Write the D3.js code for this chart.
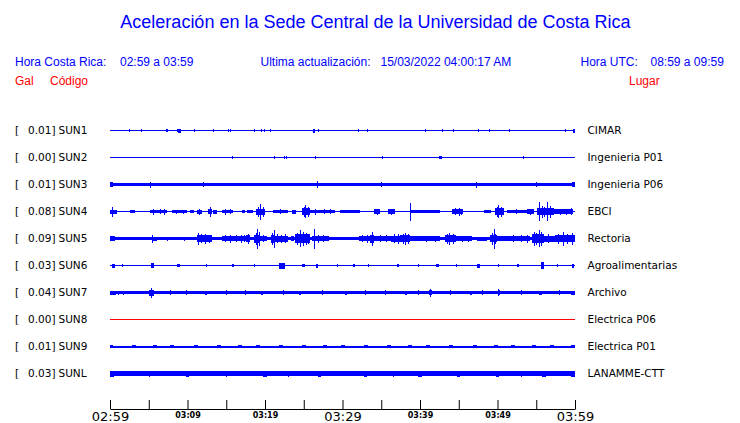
<!DOCTYPE html>
<html>
<head>
<meta charset="utf-8">
<script src="https://cdn.jsdelivr.net/npm/d3@7"></script>
<style>
  html, body { margin: 0; padding: 0; background: #fff; }
  svg { display: block; }
</style>
</head>
<body>
<svg id="chart" width="740" height="423"></svg>
<script>
// ---------------- DATA ----------------
const title = "Aceleración en la Sede Central de la Universidad de Costa Rica";
const horaCR = "02:59 a 03:59";
const horaUTC = "08:59 a 09:59";
const actualizacion = "15/03/2022 04:00:17 AM";

const stations = ["SUN1","SUN2","SUN3","SUN4","SUN5","SUN6","SUN7","SUN8","SUN9","SUNL"];
const places = ["CIMAR","Ingenieria P01","Ingenieria P06","EBCI","Rectoria","Agroalimentarias","Archivo","Electrica P06","Electrica P01","LANAMME-CTT"];
const peakGal = [0.01,0.00,0.01,0.08,0.09,0.03,0.04,0.00,0.01,0.03];
const offline = ["SUN8"];

// background noise level (half amplitude) for each station
const noiseLevel = [0.5,0.5,1.6,0.8,1.7,0.5,1.2,0.5,1.0,2.2];

// bursts: [start minute, end minute, half amplitude]; minutes after 02:59
const bursts = {
  SUN1: [[7.2,7.5,1.5],[8.8,9.1,2],[26.2,26.5,2],[59.7,60,2]],
  SUN2: [[42.5,42.9,1.8]],
  SUN3: [[0,0.4,2.2],[59.6,60,2.2]],
  SUN4: [[0,0.9,2],[2.6,3.2,1.3],[5.2,7.3,1.8],[8.0,9.9,1.3],[10.3,10.8,1.3],[11.2,11.9,2],
         [12.7,13.1,2.2],[13.3,13.8,2],[14.4,15.9,1.8],[17.0,17.4,1.3],[17.7,18.5,1.3],[18.9,20.0,3],
         [21.0,23.0,1.6],[23.5,24.0,2],[24.8,25.8,3.5],[25.8,29.0,1.8],[29.7,32.3,1.5],[34.0,34.9,2.2],
         [35.9,36.8,2.2],[38.9,42.6,1.1],[44.1,45.6,2.5],[48.2,49.1,1.6],[49.7,50.8,3.5],[51.2,53.8,1.6],
         [53.8,54.7,2.2],[55.1,57.3,3.5],[57.3,59.8,2.2]],
  SUN5: [[0,0.6,2.5],[5.5,6.0,2],[11.2,13.1,3.5],[14.4,17.6,2.5],[17.6,18.1,3.5],[18.6,19.3,4],[19.3,20.3,2.5],
         [20.8,21.3,4],[21.3,23.0,3],[23.3,23.8,2.5],[23.9,25.8,4.5],[26.0,28.3,2.5],[32.1,33.6,2.5],[33.6,34.1,4],
         [34.1,36.2,2.5],[36.2,37.4,3],[37.4,38.7,3.5],[38.7,40.0,2.5],[40.0,42.6,2.2],[43.2,44.6,3.5],[44.6,46.7,2.2],
         [47.3,48.6,2],[49.0,49.9,3.5],[49.9,51.2,2.5],[51.2,54.2,2.5],[54.4,56.0,4.5],[56.0,57.4,3],[57.4,60,3.5]],
  SUN6: [[0.3,0.7,2],[5.3,5.7,2.5],[8.7,9.0,1.8],[15.7,16.0,1.8],[21.8,22.6,3],[24.8,25.1,1.8],[26.6,26.9,2],
         [31.3,31.6,1.8],[37.0,37.3,1.8],[42.1,42.4,1.8],[47.4,47.7,2],[52.5,52.8,1.8],[55.6,56.0,3.5],[59.6,59.9,2]],
  SUN7: [[0,0.8,2],[5.0,5.7,3],[12.2,12.5,2],[19.5,19.8,2],[24.4,24.7,2],[30.3,30.6,2],[38.0,38.3,2],
         [41.1,41.5,2.5],[46.4,46.7,2],[50.0,50.3,2.5],[55.4,55.7,2],[59.5,60,2]],
  SUN8: [],
  SUN9: [[0,0.4,1.6],[2.8,3.3,1.6],[5.5,6.0,1.6],[7.8,8.3,1.6],[10.8,11.3,1.6],[13.8,14.3,1.6],[16.5,17.0,1.6],
         [18.8,19.3,1.6],[21.8,22.3,1.6],[24.8,25.3,1.6],[27.5,28.0,1.6],[29.8,30.3,1.6],[32.8,33.3,1.6],
         [35.8,36.3,1.6],[38.5,39.0,1.6],[40.8,41.3,1.6],[43.8,44.3,1.6],[46.8,47.3,1.6],[49.5,50.0,1.6],
         [51.8,52.3,1.6],[54.5,55.0,1.6],[56.8,57.3,1.6],[59.5,60,1.6]],
  SUNL: [[0,0.5,3],[9.8,10.2,3],[19.8,20.2,3],[26.8,27.2,3],[32.8,33.2,3],[39.8,40.2,3],[44.8,45.2,3],
         [49.8,50.2,3],[55.8,56.2,3],[59.5,60,3]]
};

// single spikes: [minute, half amplitude]
const spikes = {
  SUN1: [[2.5,1.5],[4.0,1.5],[7.3,1.5],[8.6,1.5],[10.9,1.5],[13.3,1.5],[15.2,1.5],[15.5,1.5],[18.6,1.5],
         [19.5,1.5],[19.9,1.5],[20.6,1.5],[26.8,1.5],[32.0,1.5],[33.1,1.5],[40.7,1.5],[42.8,1.5],[44.2,1.5],
         [47.5,1.5],[48.9,1.5],[51.5,1.5],[58.7,1.5]],
  SUN2: [[15.7,1.5],[21.1,1.5],[22.5,1.5],[22.7,1.5],[26.4,1.5],[35.1,1.5],[53.3,1.5]],
  SUN3: [[5.2,3],[12.0,2.5],[26.7,3.5],[35.0,2.5],[47.2,3],[55.0,2.5]],
  SUN4: [[0.3,5],[5.6,3],[6.4,2.5],[7.0,3],[8.5,2],[9.4,2],[11.5,3],[12.9,5],[14.8,3],[15.5,2.5],
         [19.1,5],[19.4,8],[19.7,5],[21.9,2.5],[25.0,5],[25.2,6.5],[25.5,5],[26.5,3],[27.6,2.5],[28.4,2.5],
         [34.4,3],[36.3,3],[38.75,9],[44.5,3.5],[45.0,4],[45.3,3],[49.9,5],[50.1,6.5],[50.4,5],[52.4,2.5],
         [54.2,3],[55.3,9.5],[55.7,6],[56.0,5],[56.4,9.5],[56.8,6],[58.0,3],[58.8,3],[59.5,3.5]],
  SUN5: [[5.4,4],[7.3,2],[9.6,2],[11.4,6],[11.8,4.5],[12.3,5],[12.8,4],[14.8,3.5],[15.5,4],[16.2,3.5],
         [16.9,4],[17.3,3.5],[17.8,5],[18.8,6],[19.0,10],[19.2,7],[19.8,3.5],[20.9,6],[21.1,9],[21.6,4.5],
         [22.1,4],[22.6,4.5],[24.1,6],[24.5,8.5],[24.9,7],[25.3,6],[25.6,5],[26.3,10],[26.8,4],[27.5,3.5],
         [32.5,3.5],[33.1,4],[33.8,7],[34.8,3.5],[35.6,3.5],[36.6,4.5],[37.1,5],[37.8,5],[38.1,6],[38.4,5],
         [40.8,3],[41.9,3],[43.5,5],[43.8,6],[44.2,5],[45.4,3],[46.2,3],[49.3,6],[49.5,10],[49.7,5],
         [52.0,3.5],[53.0,3.5],[53.8,4],[54.7,7],[55.0,6],[55.3,8.5],[55.6,7],[56.5,4.5],[57.8,5],[58.5,7],
         [59.0,5],[59.6,6]],
  SUN6: [[1.55,1.8],[12.4,1.8],[18.6,1.8],[29.3,1.8],[33.3,1.8],[39.8,1.8],[44.6,1.8],[50.0,1.8],[57.7,1.8]],
  SUN7: [[1.0,2],[1.7,2],[5.3,5],[7.75,2.2],[9.8,2.2],[15.0,2.2],[17.4,2.2],[22.3,2.2],[27.4,2.2],[32.9,2.2],
         [35.5,2.2],[39.8,2.2],[41.3,4],[43.9,2.2],[48.0,2.2],[50.1,3.5],[53.0,2.2],[57.9,2.2]],
  SUN8: [],
  SUN9: [],
  SUNL: [[5.0,3],[15.0,3],[23.0,3],[36.5,3],[53.0,3]]
};

const tickMinutes = [0,5,10,15,20,25,30,35,40,45,50,55,60];
const tickLabels = {0:"02:59",10:"03:09",20:"03:19",30:"03:29",40:"03:39",50:"03:49",60:"03:59"};
const majorLabels = ["02:59","03:29","03:59"];

// ---------------- DRAW ----------------
const BLUE = "#0000ff", RED = "#ff0000";
const svg = d3.select("#chart");
svg.append("rect").attr("width",740).attr("height",423).attr("fill","#fff");

const start = new Date(2022, 2, 15, 2, 59);
const toDate = m => new Date(start.getTime() + m * 60000);
const x = d3.scaleTime().domain([toDate(0), toDate(60)]).range([110, 575]);
const y = d3.scalePoint().domain(stations).range([130.5, 373.5]);
const amp = d3.scaleLinear().domain([0, 10]).range([0, 10]);

// Title & header
const sans = "'Liberation Sans', Arial, sans-serif";
const dejavu = "'DejaVu Sans', sans-serif";
svg.append("text").attr("x", 375.5).attr("y", 28).attr("text-anchor","middle")
  .attr("font-family", sans).attr("font-size", 18).attr("fill", BLUE).text(title);

const hdr = [
  [15, "Hora Costa Rica:"], [120, horaCR],
  [260.5, "Ultima actualización:"], [380.5, actualizacion],
  [580.5, "Hora UTC:"], [650.5, horaUTC]
];
svg.append("g").selectAll("text").data(hdr).join("text")
  .attr("x", d => d[0]).attr("y", 66)
  .attr("font-family", sans).attr("font-size", 12).attr("fill", BLUE)
  .text(d => d[1]);

const red = [[15,"Gal"],[50,"Código"],[629,"Lugar"]];
svg.append("g").selectAll("text").data(red).join("text")
  .attr("x", d => d[0]).attr("y", 84.5)
  .attr("font-family", sans).attr("font-size", 12).attr("fill", RED)
  .text(d => d[1]);

// Rows
const rows = svg.append("g").selectAll("g").data(stations).join("g")
  .attr("transform", s => `translate(0,${y(s)})`);

rows.append("text").attr("x", 15).attr("y", 3.8)
  .attr("font-family", dejavu).attr("font-size", 10.5).attr("fill", "#000").text("[");
rows.append("text").attr("x", 55.5).attr("y", 3.8).attr("text-anchor","end")
  .attr("font-family", dejavu).attr("font-size", 10.5).attr("fill", "#000")
  .text((s, i) => peakGal[i].toFixed(2) + "]");
rows.append("text").attr("x", 58.5).attr("y", 3.8)
  .attr("font-family", dejavu).attr("font-size", 10.5).attr("fill", "#000").text(s => s);
rows.append("text").attr("x", 587.5).attr("y", 3.8)
  .attr("font-family", dejavu).attr("font-size", 10.5).attr("fill", "#000")
  .text((s, i) => places[i]);

rows.each(function(s, i) {
  const g = d3.select(this);
  const col = offline.includes(s) ? RED : BLUE;
  const base = Math.max(amp(noiseLevel[i]), 0.5);
  g.append("rect")
    .attr("x", x(toDate(0))).attr("width", x(toDate(60)) - x(toDate(0)))
    .attr("y", -base).attr("height", 2 * base)
    .attr("fill", col).attr("shape-rendering","crispEdges");
  g.selectAll("rect.b").data(bursts[s]).join("rect").attr("class","b")
    .attr("x", d => x(toDate(d[0])))
    .attr("width", d => Math.max(1, x(toDate(d[1])) - x(toDate(d[0]))))
    .attr("y", d => -amp(d[2])).attr("height", d => 2 * amp(d[2]))
    .attr("fill", col).attr("shape-rendering","crispEdges");
  g.selectAll("line.s").data(spikes[s]).join("line").attr("class","s")
    .attr("x1", d => Math.round(x(toDate(d[0]))) + 0.5)
    .attr("x2", d => Math.round(x(toDate(d[0]))) + 0.5)
    .attr("y1", d => -amp(d[1])).attr("y2", d => amp(d[1]))
    .attr("stroke", col).attr("stroke-width", 1.2).attr("shape-rendering","crispEdges");
});

// Axis
const axis = d3.axisBottom(x)
  .tickValues(tickMinutes.map(toDate))
  .tickSize(-9).tickSizeOuter(0).tickPadding(3)
  .tickFormat((d, i) => tickLabels[tickMinutes[i]] || "");
const ax = svg.append("g").attr("transform", "translate(0,409)").call(axis);
ax.selectAll("text")
  .attr("font-family", dejavu)
  .attr("fill", "#000")
  .attr("font-size", function() { return majorLabels.includes(this.textContent) ? 13 : 8; })
  .attr("font-weight", function() { return majorLabels.includes(this.textContent) ? "normal" : "bold"; });
ax.selectAll("line, path").attr("stroke", "#000");
</script>
</body>
</html>
